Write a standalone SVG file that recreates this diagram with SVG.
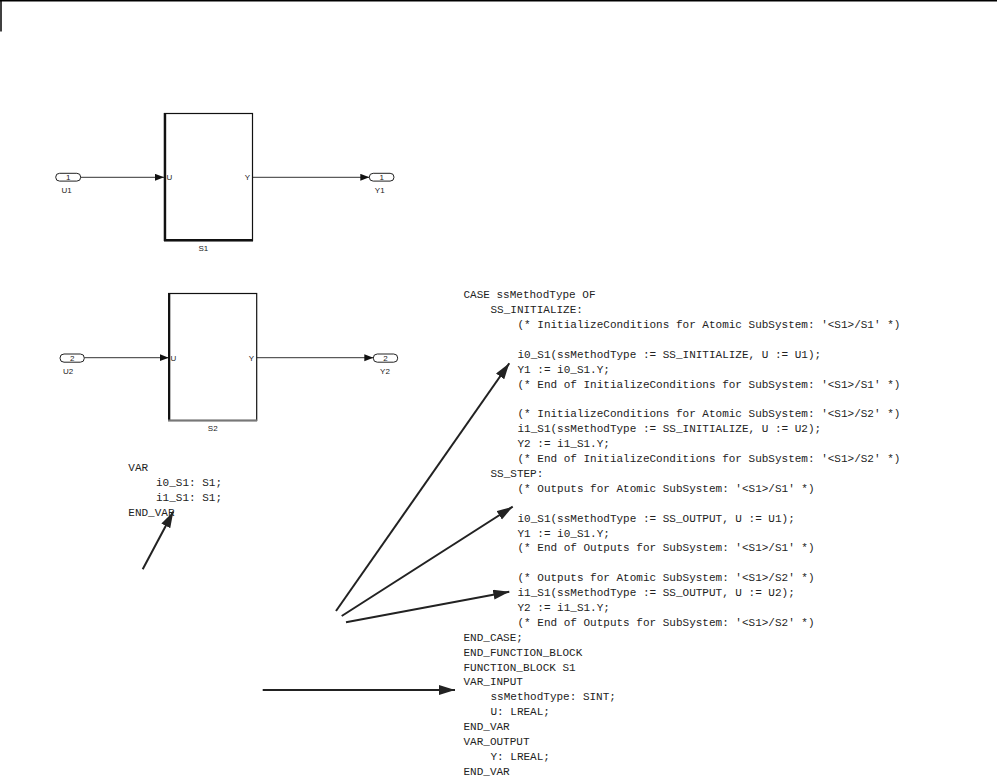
<svg xmlns="http://www.w3.org/2000/svg" width="997" height="780" viewBox="0 0 997 780">
<style>
.code{font-family:"Liberation Mono","DejaVu Sans Mono",monospace;font-size:11px;fill:#222}
.lbl{font-family:"Liberation Sans",Arial,sans-serif;font-size:8px;fill:#222;text-anchor:middle}
.blk{fill:#fff;stroke:#111;stroke-width:1.2}
.port{fill:#fff;stroke:#222;stroke-width:1}
.sig{stroke:#333;stroke-width:1;fill:none}
.call{stroke:#222;stroke-width:2;fill:none}
</style>
<defs>
<marker id="sa" markerUnits="userSpaceOnUse" markerWidth="10" markerHeight="8" refX="9" refY="3.5" orient="auto">
<path d="M0,0 L9,3.5 L0,7 z" fill="#111"/>
</marker>
<marker id="ca" markerUnits="userSpaceOnUse" markerWidth="17" markerHeight="11" refX="16" refY="5" orient="auto">
<path d="M0,0 L16,5 L0,10 z" fill="#222"/>
</marker>
</defs>
<rect width="997" height="780" fill="#fff"/>
<g id="frame">
<line x1="0" y1="0.8" x2="997" y2="0.8" stroke="#000" stroke-width="1.5"/>
<line x1="1" y1="0" x2="1" y2="31.5" stroke="#000" stroke-width="1.5"/>
</g>

<g id="connectors">
<line class="sig" x1="80.7" y1="177.3" x2="164" y2="177.3" marker-end="url(#sa)"/>
<line class="sig" x1="252.5" y1="177.3" x2="369.3" y2="177.3" marker-end="url(#sa)"/>
<line class="sig" x1="84.3" y1="357.7" x2="168.7" y2="357.7" marker-end="url(#sa)"/>
<line class="sig" x1="256.7" y1="357.7" x2="373.3" y2="357.7" marker-end="url(#sa)"/>
<line class="call" x1="142.7" y1="569.3" x2="173.3" y2="511.7" marker-end="url(#ca)"/>
<line class="call" x1="336" y1="611" x2="509.3" y2="363.3" marker-end="url(#ca)"/>
<line class="call" x1="341.7" y1="616" x2="512.7" y2="506.7" marker-end="url(#ca)"/>
<line class="call" x1="346" y1="622.3" x2="509.3" y2="591.7" marker-end="url(#ca)"/>
<line class="call" x1="262.7" y1="690" x2="455" y2="690" marker-end="url(#ca)"/>
</g>

<g id="U1">
<rect class="port" x="55.7" y="173.3" width="25" height="7.8" rx="3.9"/>
<text class="lbl" x="68.2" y="180.2">1</text>
<text class="lbl" x="66.5" y="192.5">U1</text>
</g>
<g id="S1">
<rect class="blk" x="164.5" y="113.5" width="88" height="127"/>
<line x1="165" y1="113" x2="165" y2="241" stroke="#111" stroke-width="2.4"/>
<line x1="164" y1="240.3" x2="253" y2="240.3" stroke="#111" stroke-width="2.4"/>
<text class="lbl" x="169.5" y="180.2">U</text>
<text class="lbl" x="247.5" y="180.2">Y</text>
<text class="lbl" x="203.3" y="251">S1</text>
</g>
<g id="Y1">
<rect class="port" x="369.3" y="173.3" width="24.7" height="7.8" rx="3.9"/>
<text class="lbl" x="381.7" y="180.2">1</text>
<text class="lbl" x="379.7" y="192.5">Y1</text>
</g>

<g id="U2">
<rect class="port" x="60" y="354" width="24.3" height="8.2" rx="4"/>
<text class="lbl" x="72.2" y="361">2</text>
<text class="lbl" x="68" y="374">U2</text>
</g>
<g id="S2">
<rect class="blk" x="168.7" y="293.5" width="88" height="127"/>
<line x1="169.2" y1="293" x2="169.2" y2="421" stroke="#111" stroke-width="2.2"/>
<line x1="168" y1="420.5" x2="257" y2="420.5" stroke="#777" stroke-width="2"/>
<text class="lbl" x="173.5" y="360.6">U</text>
<text class="lbl" x="251.5" y="360.6">Y</text>
<text class="lbl" x="212.7" y="430.5">S2</text>
</g>
<g id="Y2">
<rect class="port" x="373.3" y="354" width="24.4" height="8.2" rx="4"/>
<text class="lbl" x="385.5" y="361">2</text>
<text class="lbl" x="385" y="374">Y2</text>
</g>

<g id="var-decl">
<text class="code" x="128.3" y="470.7">VAR</text>
<text class="code" x="156" y="485.9">i0_S1: S1;</text>
<text class="code" x="156" y="501.1">i1_S1: S1;</text>
<text class="code" x="128.3" y="516.3">END_VAR</text>
</g>

<g id="code">
<text class="code" x="463.5" y="298.3">CASE ssMethodType OF</text>
<text class="code" x="490.5" y="313.2">SS_INITIALIZE:</text>
<text class="code" x="517.5" y="328.1">(* InitializeConditions for Atomic SubSystem: '&lt;S1&gt;/S1' *)</text>
<text class="code" x="517.5" y="357.9">i0_S1(ssMethodType := SS_INITIALIZE, U := U1);</text>
<text class="code" x="517.5" y="372.8">Y1 := i0_S1.Y;</text>
<text class="code" x="517.5" y="387.6">(* End of InitializeConditions for SubSystem: '&lt;S1&gt;/S1' *)</text>
<text class="code" x="517.5" y="417.4">(* InitializeConditions for Atomic SubSystem: '&lt;S1&gt;/S2' *)</text>
<text class="code" x="517.5" y="432.3">i1_S1(ssMethodType := SS_INITIALIZE, U := U2);</text>
<text class="code" x="517.5" y="447.2">Y2 := i1_S1.Y;</text>
<text class="code" x="517.5" y="462.1">(* End of InitializeConditions for SubSystem: '&lt;S1&gt;/S2' *)</text>
<text class="code" x="490.5" y="477.0">SS_STEP:</text>
<text class="code" x="517.5" y="491.9">(* Outputs for Atomic SubSystem: '&lt;S1&gt;/S1' *)</text>
<text class="code" x="517.5" y="521.7">i0_S1(ssMethodType := SS_OUTPUT, U := U1);</text>
<text class="code" x="517.5" y="536.5">Y1 := i0_S1.Y;</text>
<text class="code" x="517.5" y="551.4">(* End of Outputs for SubSystem: '&lt;S1&gt;/S1' *)</text>
<text class="code" x="517.5" y="581.2">(* Outputs for Atomic SubSystem: '&lt;S1&gt;/S2' *)</text>
<text class="code" x="517.5" y="596.1">i1_S1(ssMethodType := SS_OUTPUT, U := U2);</text>
<text class="code" x="517.5" y="611.0">Y2 := i1_S1.Y;</text>
<text class="code" x="517.5" y="625.9">(* End of Outputs for SubSystem: '&lt;S1&gt;/S2' *)</text>
<text class="code" x="463.5" y="640.8">END_CASE;</text>
<text class="code" x="463.5" y="655.7">END_FUNCTION_BLOCK</text>
<text class="code" x="463.5" y="670.5">FUNCTION_BLOCK S1</text>
<text class="code" x="463.5" y="685.4">VAR_INPUT</text>
<text class="code" x="490.5" y="700.3">ssMethodType: SINT;</text>
<text class="code" x="490.5" y="715.2">U: LREAL;</text>
<text class="code" x="463.5" y="730.1">END_VAR</text>
<text class="code" x="463.5" y="745.0">VAR_OUTPUT</text>
<text class="code" x="490.5" y="759.9">Y: LREAL;</text>
<text class="code" x="463.5" y="774.8">END_VAR</text>
</g>
</svg>
